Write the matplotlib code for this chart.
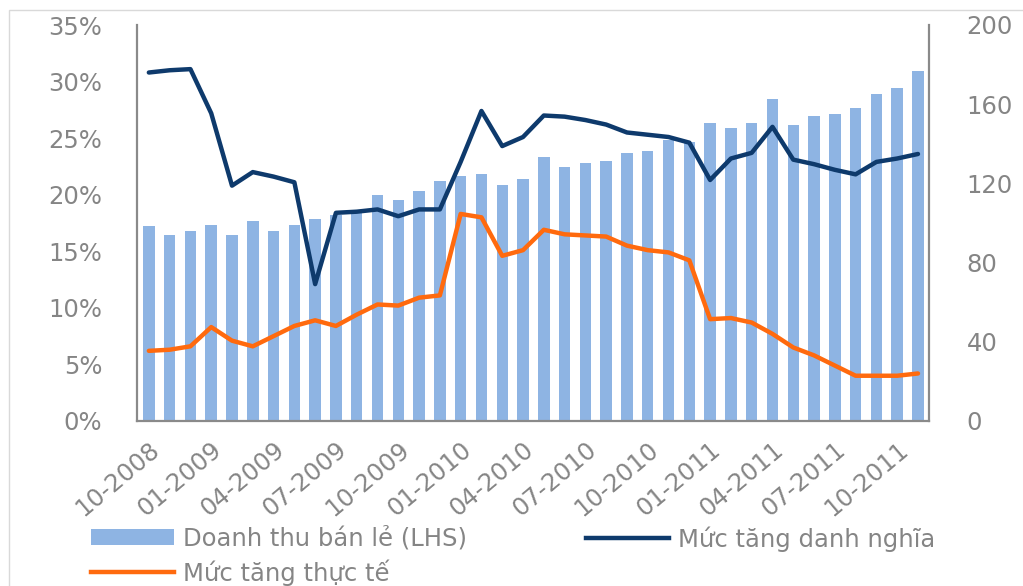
import matplotlib
matplotlib.use("Agg")
import matplotlib.pyplot as plt
from matplotlib.patches import Rectangle, Patch
from matplotlib.lines import Line2D
import numpy as np

# Monthly data, Oct 2008 - Nov 2011
months = [
    "10-2008", "11-2008", "12-2008",
    "01-2009", "02-2009", "03-2009", "04-2009", "05-2009", "06-2009",
    "07-2009", "08-2009", "09-2009", "10-2009", "11-2009", "12-2009",
    "01-2010", "02-2010", "03-2010", "04-2010", "05-2010", "06-2010",
    "07-2010", "08-2010", "09-2010", "10-2010", "11-2010", "12-2010",
    "01-2011", "02-2011", "03-2011", "04-2011", "05-2011", "06-2011",
    "07-2011", "08-2011", "09-2011", "10-2011", "11-2011",
]

# Retail revenue (right scale)
retail_revenue = [
    98.3, 94.1, 96.1, 99.0, 94.1, 101.2, 95.8, 99.0, 102.2, 104.0,
    105.0, 113.9, 111.8, 116.3, 121.0, 123.9, 124.5, 119.0, 122.2, 133.1,
    128.1, 130.3, 131.4, 135.6, 136.6, 142.0, 141.0, 150.4, 148.2, 150.7,
    162.5, 149.6, 154.1, 155.1, 158.0, 164.9, 168.4, 176.9,
]

# Nominal growth, % (left scale)
nominal_growth = [
    30.8, 31.0, 31.1, 27.2, 20.8, 22.0, 21.6, 21.1, 12.1, 18.4,
    18.5, 18.7, 18.1, 18.7, 18.7, 22.9, 27.4, 24.3, 25.1, 27.0,
    26.9, 26.6, 26.2, 25.5, 25.3, 25.1, 24.6, 21.3, 23.2, 23.7,
    26.0, 23.1, 22.7, 22.2, 21.8, 22.9, 23.2, 23.6,
]

# Real growth, % (left scale)
real_growth = [
    6.2, 6.3, 6.6, 8.3, 7.1, 6.6, 7.5, 8.4, 8.9, 8.4,
    9.4, 10.3, 10.2, 10.9, 11.1, 18.3, 18.0, 14.6, 15.1, 16.9,
    16.5, 16.4, 16.3, 15.5, 15.1, 14.9, 14.2, 9.0, 9.1, 8.7,
    7.7, 6.5, 5.8, 4.9, 4.0, 4.0, 4.0, 4.2,
]

label_bar = "Doanh thu bán lẻ (LHS)"
label_nominal = "Mức tăng danh nghĩa"
label_real = "Mức tăng thực tế"

left_ticks = [0, 5, 10, 15, 20, 25, 30, 35]
right_ticks = [0, 40, 80, 120, 160, 200]

BAR_COLOR = "#8EB4E3"
NAVY = "#0E3A6C"
ORANGE = "#FF6A0E"
GRAY = "#858585"
AXIS_GRAY = "#8A8A8A"
FS = 17.5

plt.rcParams["font.family"] = ["DejaVu Sans"]

fig = plt.figure(figsize=(10.23, 5.86), dpi=100)
fig.patch.set_facecolor("white")

# thin outer frame
fig.patches.append(Rectangle((9 / 1023, -0.5), 2.0, 1.5 - 10 / 586,
                             transform=fig.transFigure, fill=False,
                             edgecolor="#d9d9d9", linewidth=1.0))

ax = fig.add_axes([137 / 1023, 1 - 421 / 586, (929 - 137) / 1023, (421 - 25) / 586])
ax2 = ax.twinx()

x = np.arange(len(months))

# bars on the right scale
ax2.bar(x, retail_revenue, width=0.55, color=BAR_COLOR, zorder=1)
ax2.set_ylim(0, 200)
ax2.set_yticks(right_ticks)

# growth lines on the left scale, drawn above the bars
ax.set_zorder(ax2.get_zorder() + 1)
ax.patch.set_visible(False)
ax.plot(x, nominal_growth, color=NAVY, linewidth=3.2, solid_capstyle="round",
        solid_joinstyle="round")
ax.plot(x, real_growth, color=ORANGE, linewidth=3.2, solid_capstyle="round",
        solid_joinstyle="round")
ax.set_ylim(0, 35)
ax.set_yticks(left_ticks)
ax.set_yticklabels([f"{t}%" for t in left_ticks])
ax.set_xlim(-0.57, len(months) - 1 + 0.53)

tick_idx = list(range(0, len(months), 3))
ax.set_xticks(tick_idx)
ax.set_xticklabels([months[i] for i in tick_idx], rotation=40, ha="right",
                   va="top", rotation_mode="anchor")

for a in (ax, ax2):
    for s in a.spines.values():
        s.set_visible(False)
ax.spines["left"].set_visible(True)
ax.spines["bottom"].set_visible(True)
ax2.spines["right"].set_visible(True)
for s in (ax.spines["left"], ax.spines["bottom"], ax2.spines["right"]):
    s.set_color(AXIS_GRAY)
    s.set_linewidth(1.6)

ax.tick_params(axis="y", length=0, labelsize=FS, labelcolor=GRAY, pad=25)
ax.tick_params(axis="x", length=0, labelsize=FS, labelcolor=GRAY, pad=12)
ax2.tick_params(axis="y", length=0, labelsize=FS, labelcolor=GRAY, pad=27)

# legend: first column (bars, real growth), second column (nominal growth)
h_bar = Patch(facecolor=BAR_COLOR, edgecolor="none")
h_real = Line2D([], [], color=ORANGE, linewidth=3.2)
h_nom = Line2D([], [], color=NAVY, linewidth=3.2)

leg1 = fig.legend([h_bar, h_real], [label_bar, label_real],
                  loc="upper left", bbox_to_anchor=(91 / 1023, 1 - 526 / 586),
                  frameon=False, fontsize=FS, labelcolor=GRAY,
                  handlelength=3.4, handleheight=0.6, handletextpad=0.4,
                  labelspacing=0.35, borderpad=0, borderaxespad=0)
leg2 = fig.legend([h_nom], [label_nominal],
                  loc="upper left", bbox_to_anchor=(586 / 1023, 1 - 526 / 586),
                  frameon=False, fontsize=FS, labelcolor=GRAY,
                  handlelength=3.4, handletextpad=0.4,
                  borderpad=0, borderaxespad=0)

fig.savefig("out.png", dpi=100, facecolor="white")
